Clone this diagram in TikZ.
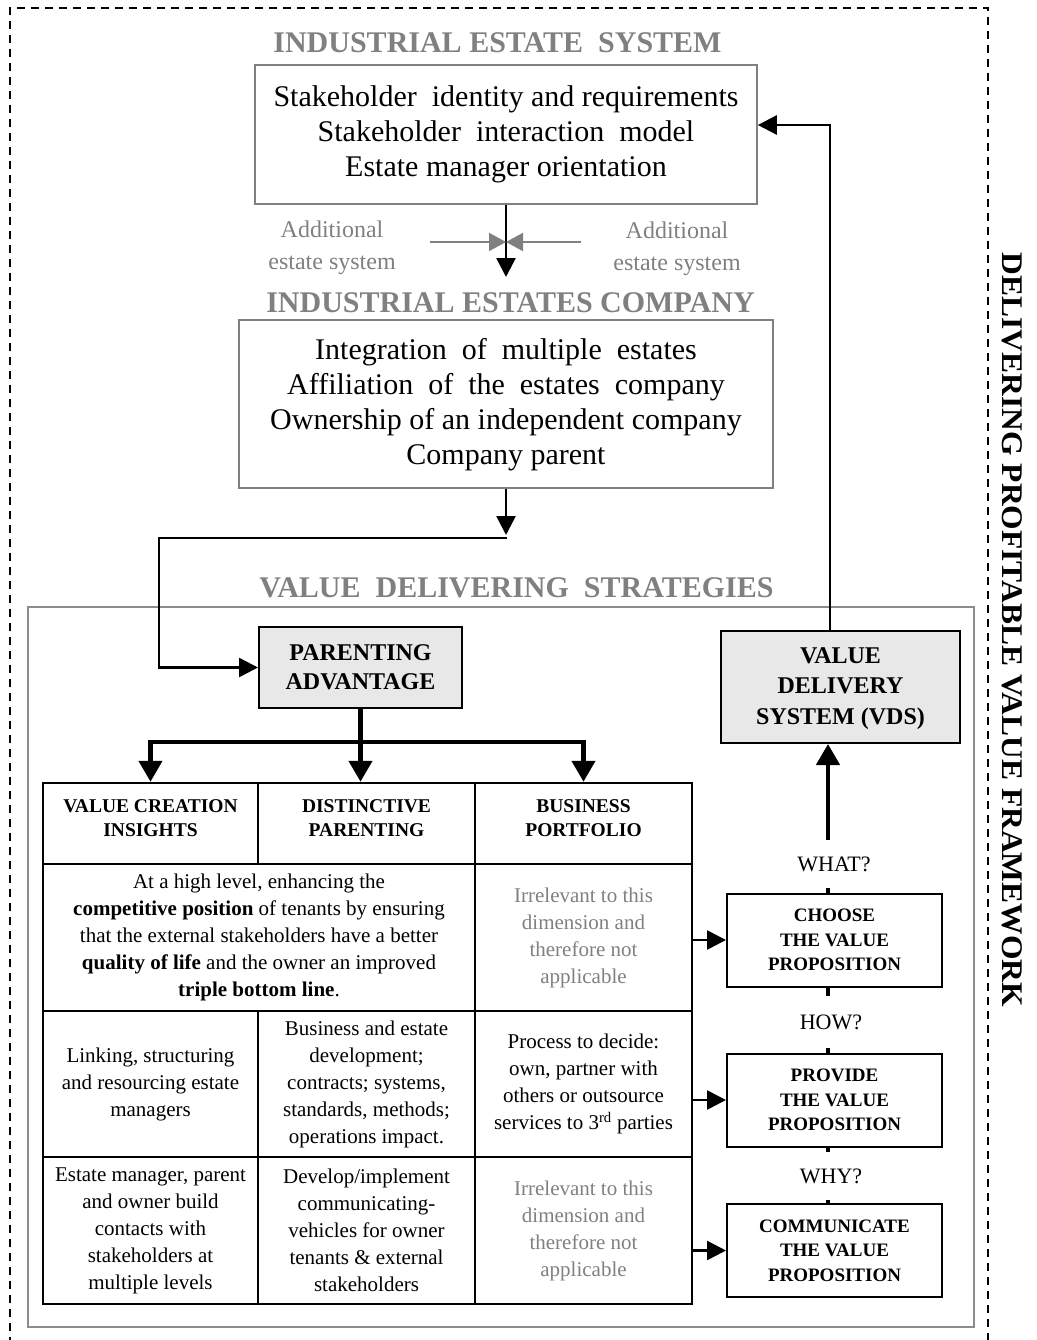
\documentclass[tikz,border=0pt]{standalone}
\usepackage{fontspec}
\setmainfont{Liberation Serif}
\usetikzlibrary{arrows.meta,calc}
\definecolor{midgray}{HTML}{808080}
\definecolor{framegray}{HTML}{8C8C8C}
\definecolor{keyfill}{HTML}{E8E8E8}
\newcommand{\fsz}[2]{\fontsize{#1}{#2}\selectfont}

\begin{document}
\begin{tikzpicture}[x=1pt,y=-1pt,
  title/.style={font=\fsz{30}{36}\bfseries, text=midgray, inner sep=0pt},
  sysbox/.style={draw=midgray, line width=1.6pt, align=center, inner sep=0pt, font=\fsz{30}{35}},
  addtext/.style={text=midgray, align=center, inner sep=0pt, font=\fsz{24}{32}},
  keybox/.style={draw=black, line width=2pt, fill=keyfill, align=center, inner sep=0pt},
  cell/.style={draw=black, line width=2.5pt, align=center, inner sep=0pt, font=\fsz{21}{27}},
  hcell/.style={cell, font=\fsz{19.5}{24}\bfseries, text depth=10pt},
  grcell/.style={cell, text=midgray},
  vpbox/.style={draw=black, line width=2pt, fill=white, align=center, inner sep=0pt,
    minimum width=215pt, minimum height=93pt, font=\fsz{19}{24.5}\bfseries},
  qlabel/.style={font=\fsz{22}{26}, inner sep=0pt},
  conn/.style={line width=2.5pt, -{Triangle[length=19pt,width=19pt]}},
  thickconn/.style={line width=4.5pt, -{Triangle[length=21pt,width=23pt]}},
  thickline/.style={line width=4.5pt},
  grayconn/.style={midgray, line width=2pt, -{Triangle[length=17pt,width=18pt]}},
  framebox/.style={line width=1.6pt, dash pattern=on 8pt off 6pt},
  outerbox/.style={draw=framegray, line width=2.5pt}
]
\useasboundingbox (0,0) rectangle (1036,1340);

% outer dashed frame and its side caption
\draw[framebox] (10,1345) |- (988,8) -- (988,1345);
\node[rotate=-90, font=\fsz{30}{36}\bfseries, inner sep=0pt] (frametitle) at (1012,630)
  {\scalebox{1.05}[1]{DELIVERING PROFITABLE VALUE FRAMEWORK}};

% industrial estate system
\node[title] (t1) at (497.5,43) {INDUSTRIAL ESTATE\ \ SYSTEM};
\node[sysbox, minimum width=502pt, minimum height=139pt] (ies) at (506,134.5)
  {Stakeholder\ \ identity and requirements\\
   Stakeholder\ \ interaction\ \ model\\
   Estate manager orientation};

% additional estate systems feeding in
\node[addtext] (addl) at (332,248) {Additional\\estate system};
\node[addtext] (addr) at (677,249) {Additional\\estate system};
\coordinate (gleft) at (430,242);
\coordinate (gright) at (581,242);
\coordinate (gmid) at (506,242);
\coordinate (ciet) at (506,277);
\draw[conn] (ies.south) -- (ciet);
\draw[grayconn] (gleft) -- (gmid);
\draw[grayconn] (gright) -- (gmid);

% industrial estates company
\node[title] (t2) at (510.5,303) {INDUSTRIAL ESTATES COMPANY};
\node[sysbox, minimum width=534pt, minimum height=168pt, text depth=6pt] (iec) at (506,404)
  {Integration\ \ of\ \ multiple\ \ estates\\
   Affiliation\ \ of\ \ the\ \ estates\ \ company\\
   Ownership of an independent company\\
   Company parent};

% value delivering strategies
\node[title] (t3) at (516.5,588) {VALUE\ \ DELIVERING\ \ STRATEGIES};
\draw[outerbox] (28,607) rectangle (974,1327);

\node[keybox, minimum width=203pt, minimum height=81pt, font=\fsz{24}{29}\bfseries] (pa)
  at (360.5,667.5) {PARENTING\\ADVANTAGE};
\node[keybox, minimum width=239pt, minimum height=112pt, font=\fsz{24}{30.5}\bfseries, text depth=2pt] (vds)
  at (840.5,687) {VALUE\\DELIVERY\\SYSTEM (VDS)};

\coordinate (split) at (506,535);
\coordinate (bendx) at (159,0);
\draw[conn] (iec.south) -- (split);
\draw[line width=2.5pt, -{Triangle[length=19pt,width=19pt]}]
  ($(split)+(1,3)$) -| (bendx |- pa.west) -- (pa.west);

% table of parenting dimensions
\node[hcell, minimum width=215pt, minimum height=81pt] (h1) at (150.5,823.5) {VALUE CREATION\\INSIGHTS};
\node[hcell, minimum width=217pt, minimum height=81pt] (h2) at (366.5,823.5) {DISTINCTIVE\\PARENTING};
\node[hcell, minimum width=217pt, minimum height=81pt] (h3) at (583.5,823.5) {BUSINESS\\PORTFOLIO};

\node[cell, minimum width=432pt, minimum height=147pt] (r2a) at (259,937.5)
  {At a high level, enhancing the\\
   \textbf{competitive position} of tenants by ensuring\\
   that the external stakeholders have a better\\
   \textbf{quality of life} and the owner an improved\\
   \textbf{triple bottom line}.};
\node[grcell, minimum width=217pt, minimum height=147pt] (r2c) at (583.5,937.5)
  {Irrelevant to this\\dimension and\\therefore not\\applicable};

\node[cell, minimum width=215pt, minimum height=146pt] (r3a) at (150.5,1084)
  {Linking, structuring\\and resourcing estate\\managers};
\node[cell, minimum width=217pt, minimum height=146pt] (r3b) at (366.5,1084)
  {Business and estate\\development;\\contracts; systems,\\standards, methods;\\operations impact.};
\node[cell, minimum width=217pt, minimum height=146pt] (r3c) at (583.5,1084)
  {Process to decide:\\own, partner with\\others or outsource\\services to 3\textsuperscript{rd} parties};

\node[cell, minimum width=215pt, minimum height=147pt] (r4a) at (150.5,1230.5)
  {Estate manager, parent\\and owner build\\contacts with\\stakeholders at\\multiple levels};
\node[cell, minimum width=217pt, minimum height=147pt] (r4b) at (366.5,1230.5)
  {Develop/implement\\communicating-\\vehicles for owner\\tenants \& external\\stakeholders};
\node[grcell, minimum width=217pt, minimum height=147pt] (r4c) at (583.5,1230.5)
  {Irrelevant to this\\dimension and\\therefore not\\applicable};

% distribution from parenting advantage to the three dimensions
\coordinate (bus) at (360.5,742);
\draw[thickline] (pa.south) -- (bus);
\draw[thickline] (h1.north |- bus) -- (h3.north |- bus);
\draw[thickconn] ($(h1.north |- bus)+(0,-2.25)$) -- (h1.north);
\draw[thickconn] (bus) -- (bus |- h2.north);
\draw[thickconn] ($(h3.north |- bus)+(0,-2.25)$) -- (h3.north);

% value proposition chain
\coordinate (spine) at (828,0);
\node[qlabel, minimum height=48pt] (what) at (834,864) {WHAT?};
\node[vpbox] (cvp) at (834.5,940) {CHOOSE\\THE VALUE\\PROPOSITION};
\node[qlabel, minimum height=51pt] (how) at (831,1022) {HOW?};
\node[vpbox] (pvp) at (834.5,1100) {PROVIDE\\THE VALUE\\PROPOSITION};
\node[qlabel, minimum height=47pt] (why) at (831,1176) {WHY?};
\node[vpbox] (mvp) at (834.5,1250.5) {COMMUNICATE\\THE VALUE\\PROPOSITION};

\draw[thickconn] (spine |- what.north) -- (spine |- vds.south);
\draw[line width=4pt] (spine |- what.south) -- (spine |- cvp.north);
\draw[line width=4pt] (spine |- cvp.south) -- (spine |- how.north);
\draw[line width=4pt] (spine |- how.south) -- (spine |- pvp.north);
\draw[line width=4pt] (spine |- pvp.south) -- (spine |- why.north);
\draw[line width=4pt] (spine |- why.south) -- (spine |- mvp.north);

\draw[conn] (r2c.east |- cvp.west) -- (cvp.west);
\draw[conn] (r3c.east |- pvp.west) -- (pvp.west);
\draw[conn] (r4c.east |- mvp.west) -- (mvp.west);

% feedback from the value delivery system to the estate system
\coordinate (fb) at (830,125);
\draw[conn] (fb |- vds.north) -- (fb) -- (ies.east |- fb);
\end{tikzpicture}
\end{document}
